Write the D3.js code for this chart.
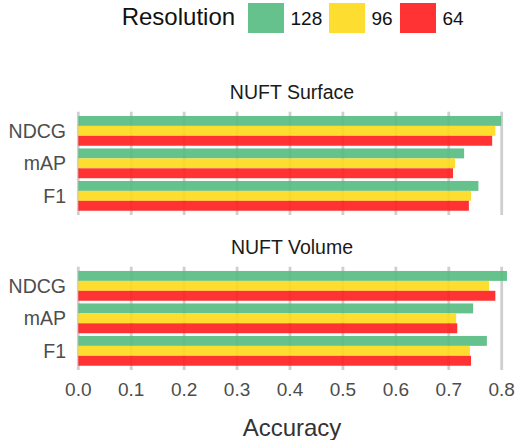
<!DOCTYPE html>
<html>
<head>
<meta charset="utf-8">
<script src="https://cdn.jsdelivr.net/npm/d3@7"></script>
<style>
  body { margin: 0; background: #fff; }
  text { font-family: "Liberation Sans", Arial, sans-serif; }
</style>
</head>
<body>
<div id="chart"></div>
<script>
//data
var panels = ["NUFT Surface", "NUFT Volume"];
var metrics = ["NDCG", "mAP", "F1"];
var resolutions = ["128", "96", "64"];
var colors = ["#55bb81", "#fdda19", "#ff1d1d"];
var xTicks = [0, 0.1, 0.2, 0.3, 0.4, 0.5, 0.6, 0.7, 0.8];

//values per metric, in resolution order 128 / 96 / 64
var surface = [
  [0.799, 0.788, 0.782],
  [0.729, 0.712, 0.708],
  [0.756, 0.742, 0.738]
];
var volume = [
  [0.810, 0.776, 0.788],
  [0.746, 0.714, 0.716],
  [0.772, 0.740, 0.742]
];
var panelValues = [surface, volume];

var width = 517, height = 440;

var svg = d3.select("#chart").append("svg")
  .attr("width", width)
  .attr("height", height);

//shared x scale
var x = d3.scaleLinear().domain([0, 0.8]).range([78.3, 501.7]);

//panel vertical extents (grid area)
var panelTops = [111.7, 266.7];
var panelH = 103.3;

panels.forEach(function(name, pi){
  var top = panelTops[pi];
  var g = svg.append("g");

  var y = d3.scaleBand()
    .domain(metrics)
    .range([top + 2.9, top + panelH - 2.9])
    .paddingInner(0.083)
    .paddingOuter(0.0415);

  var ySub = d3.scaleBand()
    .domain(resolutions)
    .range([0, y.bandwidth()]);

  //title
  g.append("text")
    .attr("x", 292)
    .attr("y", top - 12.5)
    .attr("text-anchor", "middle")
    .attr("font-size", 19.5)
    .attr("fill", "#1a1a1a")
    .text(name);

  //gridlines under the bars
  g.selectAll(".grid")
    .data(xTicks)
    .enter().append("line")
    .attr("x1", function(d){ return x(d); })
    .attr("x2", function(d){ return x(d); })
    .attr("y1", top)
    .attr("y2", top + panelH)
    .attr("stroke", "#cfcfcf")
    .attr("stroke-width", 2.8);

  //bars, slightly transparent so the grid shows through
  var groups = g.selectAll(".grp")
    .data(metrics)
    .enter().append("g")
    .attr("transform", function(d){ return "translate(0," + y(d) + ")"; });

  groups.selectAll("rect")
    .data(function(d, i){
      return resolutions.map(function(r, j){ return {res: r, v: panelValues[pi][i][j], c: colors[j]}; });
    })
    .enter().append("rect")
    .attr("x", x(0))
    .attr("y", function(d){ return ySub(d.res); })
    .attr("width", function(d){ return x(d.v) - x(0); })
    .attr("height", ySub.bandwidth())
    .attr("fill", function(d){ return d.c; })
    .attr("fill-opacity", 0.9);

  //category labels
  g.selectAll(".cat")
    .data(metrics)
    .enter().append("text")
    .attr("x", 66)
    .attr("y", function(d){ return y(d) + y.bandwidth() / 2; })
    .attr("dy", "0.35em")
    .attr("text-anchor", "end")
    .attr("font-size", 19.5)
    .attr("fill", "#4d4d4d")
    .text(function(d){ return d; });
});

//x axis tick labels
svg.append("g").selectAll("text")
  .data(xTicks)
  .enter().append("text")
  .attr("x", function(d){ return x(d); })
  .attr("y", 396)
  .attr("text-anchor", "middle")
  .attr("font-size", 19)
  .attr("fill", "#4d4d4d")
  .text(function(d){ return d3.format(".1f")(d); });

svg.append("text")
  .attr("x", 292)
  .attr("y", 436)
  .attr("text-anchor", "middle")
  .attr("font-size", 24)
  .attr("fill", "#333")
  .text("Accuracy");

//legend
var legend = svg.append("g");
legend.append("text")
  .attr("x", 121.7)
  .attr("y", 24.5)
  .attr("font-size", 24)
  .attr("fill", "#111")
  .text("Resolution");

var swatchX = [248, 329, 400];
resolutions.forEach(function(r, i){
  legend.append("rect")
    .attr("x", swatchX[i])
    .attr("y", 3)
    .attr("width", 36)
    .attr("height", 30)
    .attr("fill", colors[i])
    .attr("fill-opacity", 0.9);
  legend.append("text")
    .attr("x", swatchX[i] + 42.5)
    .attr("y", 24.5)
    .attr("font-size", 19)
    .attr("fill", "#111")
    .text(r);
});
</script>
</body>
</html>
